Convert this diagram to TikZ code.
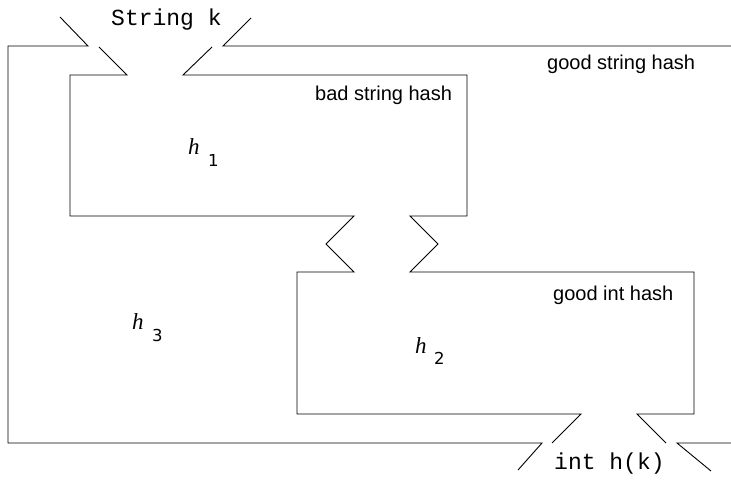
\documentclass[tikz,border=0pt]{standalone}
\usepackage{fontspec}
\setmainfont{Liberation Serif}
\setsansfont{Liberation Sans}
\setmonofont{Liberation Mono}
\newfontfamily\subfont{DejaVu Sans}
\begin{document}
\begin{tikzpicture}[x=1pt,y=-1pt,
  wall/.style={draw=black,line width=0.9pt,line join=miter},
  lbl/.style={font=\sffamily\fontsize{20}{22}\selectfont,inner sep=0pt,anchor=base west},
  code/.style={font=\ttfamily\fontsize{23}{25}\selectfont,inner sep=0pt,anchor=base west},
  hvar/.style={font=\rmfamily\itshape\fontsize{23}{25}\selectfont,inner sep=0pt,anchor=base west},
  hsub/.style={font=\subfont\fontsize{16.5}{18}\selectfont,inner sep=0pt,anchor=base west}]
\useasboundingbox (0,0) rectangle (731,482);
% outer h3
\draw[wall] (60,17) -- (88,46) -- (8,46) -- (8,443) -- (542,443) -- (518,470);
\draw[wall] (251,18) -- (223,46) -- (731,46);
\draw[wall] (711,471) -- (677,443) -- (731,443);
% h1 and h2 left walls
\draw[wall] (99,47) -- (127,75) -- (70,75) -- (70,216) -- (354,216) -- (326,244) -- (354,272)
  -- (297,272) -- (297,414) -- (581,414) -- (552,443);
% h1 and h2 right walls
\draw[wall] (212,47) -- (183,75) -- (467,75) -- (467,216) -- (410,216) -- (438,244) -- (410,272)
  -- (694,272) -- (694,414) -- (637,414) -- (666,443);
% texts
\node[code] (sk) at (111,25) {String k};
\node[code] (hk) at (554,469) {int h(k)};
\node[lbl] (gsh) at (547,69) {good string hash};
\node[lbl] (bsh) at (315,100) {bad string hash};
\node[lbl] (gih) at (553,300) {good int hash};
\node[hvar] (h1) at (188,154) {h};
\node[hsub] (s1) at (208,166) {1};
\node[hvar] (h3) at (132,329) {h};
\node[hsub] (s3) at (152,341) {3};
\node[hvar] (h2) at (415,353) {h};
\node[hsub] (s2) at (434,364) {2};
\end{tikzpicture}
\end{document}
